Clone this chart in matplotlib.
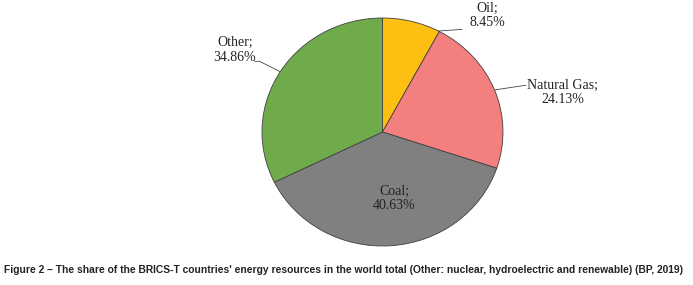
import numpy as np
import matplotlib.pyplot as plt

# data (shares as printed, they sum to ~108%)
sources = ["Oil", "Natural Gas", "Coal", "Other"]
shares = [8.45, 24.13, 40.63, 34.86]
colors = ["#FDBF11", "#F37F7E", "#808080", "#6FAB4A"]

caption = ("Figure 2 \u2013 The share of the BRICS-T countries' energy resources in the world total "
           "(Other: nuclear, hydroelectric and renewable) (BP, 2019)")

fig = plt.figure(figsize=(6.93, 2.85), dpi=100)
ax = fig.add_axes([262 / 693, 39 / 285, 241 / 693, 228 / 285])

wedges, _ = ax.pie(shares, colors=colors, startangle=90, counterclock=False,
                   wedgeprops=dict(edgecolor="#404040", linewidth=0.6))
ax.set_aspect("auto")
ax.set_xlim(-1, 1)
ax.set_ylim(-1, 1)

serif = dict(family="Liberation Serif", fontsize=10, color="#222222",
             linespacing=1.15)

def edge(theta):
    t = np.deg2rad(theta)
    return np.cos(t), np.sin(t)

w_oil, w_gas, w_coal, w_other = wedges

# Oil label
ang = w_oil.theta1 + 0.5
ax.annotate("", xy=edge(ang), xytext=(0.66, 0.90),
            arrowprops=dict(arrowstyle="-", color="#444444", lw=0.6, shrinkA=0, shrinkB=0))
ax.text(0.87, 1.02, "Oil;\n8.45%", ha="center", va="center", **serif)

# Natural gas label
ang = (w_gas.theta1 + w_gas.theta2) / 2
ax.annotate("", xy=edge(ang), xytext=(1.19, 0.41),
            arrowprops=dict(arrowstyle="-", color="#444444", lw=0.6, shrinkA=0, shrinkB=0))
ax.text(1.495, 0.345, "Natural Gas;\n24.13%", ha="center", va="center", **serif)

# Other label
ang = (w_other.theta1 + w_other.theta2) / 2
ax.plot([edge(ang)[0], -1.02, -1.06], [edge(ang)[1], 0.62, 0.62],
        color="#444444", lw=0.6, clip_on=False)
ax.text(-1.225, 0.72, "Other;\n34.86%", ha="center", va="center", **serif)

# Coal label inside
ax.text(0.095, -0.585, "Coal;\n40.63%", ha="center", va="center", **serif)

fig.text(4 / 693, 15 / 285, caption, ha="left", va="center",
         family="Liberation Sans", fontsize=7.4,
         fontweight="bold", color="#222222")

fig.savefig("out.png", dpi=100)
